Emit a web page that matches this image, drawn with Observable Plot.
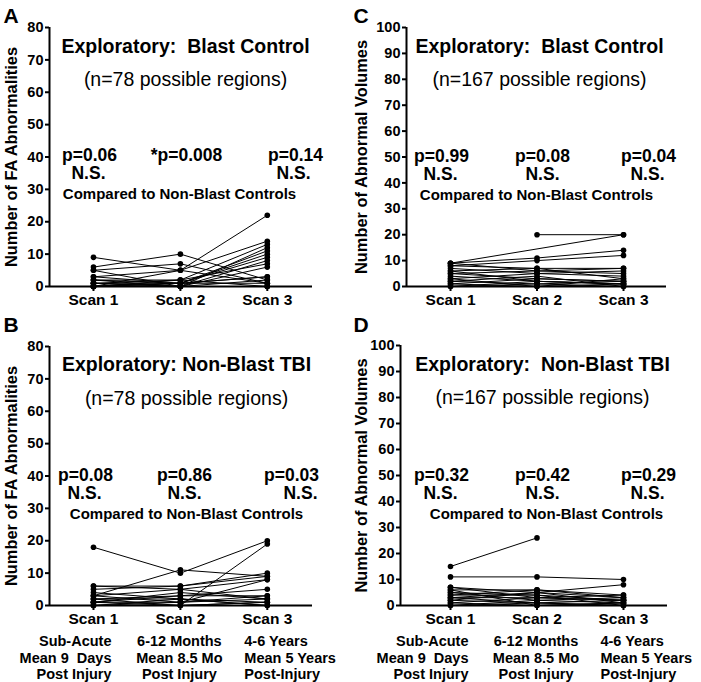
<!DOCTYPE html>
<html><head><meta charset="utf-8">
<script src="https://cdn.jsdelivr.net/npm/d3@7"></script>
<script src="https://cdn.jsdelivr.net/npm/@observablehq/plot@0.6"></script>
<style>
body{margin:0;background:#fff;}
#fig{position:relative;width:701px;height:682px;overflow:hidden;background:#fff;}
#fig > div{position:absolute;}
</style></head><body><div id="fig"></div>
<script>
// ---------- DATA ----------
const scans = ["Scan 1", "Scan 2", "Scan 3"];
const timeLine1 = ["Sub-Acute", "6-12 Months", "4-6 Years"];
const timeLine2 = ["Mean 9\u00a0 Days", "Mean 8.5 Mo", "Mean 5 Years"];
const timeLine3 = ["Post Injury", "Post Injury", "Post-Injury"];
const comparedText = "Compared to Non-Blast Controls";

// Panel A: FA abnormalities, blast control
const faBlastScan1 = [9, 6, 5, 0, 3, 2, 1, 0, 3, 1, 0, 2, 0, 1, 0, 0, 0, 5, 1, 2];
const faBlastScan2 = [5, 10, 7, 5, 5, 2, 1, 1, 1, 0, 2, 0, 1, 0, 0, 1, 0, 0, 2, 1];
const faBlastScan3 = [1, 2, 1, 22, 14, 13, 11, 10, 9, 8, 7, 6, 3, 2, 0, 1, 12, 0, 0, 3];
const faBlastP = ["p=0.06", "*p=0.008", "p=0.14"];
const faBlastNS = ["N.S.", "", "N.S."];

// Panel B: FA abnormalities, non-blast TBI
const faNonBlastScan1 = [18, 3, 1, 6, 6, 5, 3, 2, 2, 1, 3, 0, 1, 2, 0, 4, 1, 0];
const faNonBlastScan2 = [10, 11, 0, 6, 5, 6, 5, 3, 2, 3, 1, 2, 1, 0, 1, 2, 4, 0];
const faNonBlastScan3 = [20, 9, 19, 10, 2, 9, 8, 5, 1, 3, 2, 0, 8, 1, 3, 0, 2, 1];
const faNonBlastP = ["p=0.08", "p=0.86", "p=0.03"];
const faNonBlastNS = ["N.S.", "N.S.", "N.S."];

// Panel C: abnormal volumes, blast control
const volBlastScan1 = [9, null, 9, 8, 8, 7, 6, 5, 5, 4, 3, 2, 1, 0, 1, 2, 0, 9, 3, 6];
const volBlastScan2 = [null, 20, 11, 10, 7, 5, 7, 6, 3, 2, 5, 1, 3, 2, 0, 4, 1, 6, 0, 2];
const volBlastScan3 = [20, 20, 14, 12, 7, 6, 3, 7, 2, 1, 4, 0, 2, 1, 3, 0, 2, 5, 1, 1];
const volBlastP = ["p=0.99", "p=0.08", "p=0.04"];
const volBlastNS = ["N.S.", "N.S.", "N.S."];

// Panel D: abnormal volumes, non-blast TBI
const volNonBlastScan1 = [15, 11, 3, 7, 6, 5, 4, 4, 3, 2, 6, 1, 0, 2, 5, 1, 0, 3, 7];
const volNonBlastScan2 = [26, 11, 5, 3, 6, 2, 6, 4, 1, 5, 0, 3, 2, 1, 4, 0, 1, 3, 5];
const volNonBlastScan3 = [null, 10, 8, 2, 4, 1, 3, 0, 2, 1, 1, 4, 3, 0, 2, 1, 0, 2, 3];
const volNonBlastP = ["p=0.32", "p=0.42", "p=0.29"];
const volNonBlastNS = ["N.S.", "N.S.", "N.S."];

// ---------- DRAWING ----------
const FONT = '"Liberation Sans", Arial, Helvetica, sans-serif';

function makeRows(s1, s2, s3) {
  const rows = [];
  s1.forEach((_, i) => {
    [s1, s2, s3].forEach((s, j) => {
      if (s[i] != null) rows.push({subject: i, scan: j + 1, value: s[i]});
    });
  });
  return rows;
}

function panel(cfg) {
  const m = cfg.margin;
  const W = cfg.width, H = cfg.height;
  const rows = makeRows(cfg.s1, cfg.s2, cfg.s3);
  // helper: text positioned in panel pixel space (px, baseline py)
  const at = (text, px, py, size, weight = "bold", anchor = "middle") =>
    Plot.text([text], {
      text: d => d, frameAnchor: "top-left",
      dx: px - m.left, dy: py - m.top,
      textAnchor: anchor, lineAnchor: "bottom",
      fontSize: size, fontWeight: weight, fill: "black"
    });
  const marks = [
    Plot.axisY({ticks: d3.range(0, cfg.yMax + 1, 10), tickSize: 4, tickPadding: 2,
      strokeWidth: 2, fontSize: 14.5, fontWeight: "bold", label: null}),
    Plot.axisX({ticks: [1, 2, 3], tickSize: 5, tickPadding: 2, strokeWidth: 2,
      tickFormat: i => scans[i - 1], fontSize: 15.5, fontWeight: "bold", label: null}),
    Plot.ruleY([0], {strokeWidth: 2}),
    Plot.ruleX([cfg.xDomain[0]], {strokeWidth: 2}),
    Plot.line(rows, {x: "scan", y: "value", z: "subject", stroke: "black", strokeWidth: 1}),
    Plot.dot(rows, {x: "scan", y: "value", r: 2.8, fill: "black"}),
    // y axis title
    Plot.text([cfg.yLabel], {text: d => d, frameAnchor: "left", rotate: -90,
      textAnchor: "middle", lineAnchor: "middle",
      dx: 11 - m.left, fontSize: 16.4, fontWeight: "bold", fill: "black"}),
    at(cfg.letter, 3, cfg.letterY, 21, "bold", "start"),
    at(cfg.title, cfg.titleX, cfg.titleY, 19.5, "bold"),
    at(cfg.subtitle, cfg.titleX, cfg.subY, 19.5, "normal"),
    ...cfg.p.map((t, i) => at(t, cfg.pX[i], cfg.pY, 17.5)),
    ...cfg.ns.map((t, i) => at(t, cfg.nsX[i], cfg.pY + 18, 17.5)),
    at(comparedText, cfg.cmpX, cfg.pY + 38, 15)
  ];
  if (cfg.times) {
    const anchors = ["end", "middle", "start"];
    const dxs = [18, -1, -23];
    [0, 1, 2].forEach(i => {
      marks.push(Plot.text([i], {
        x: d => d + 1, y: () => 0,
        text: d => [timeLine1[d], timeLine2[d], timeLine3[d]].join("\n"),
        textAnchor: anchors[i], dx: dxs[i], dy: 28, lineAnchor: "top",
        lineHeight: 1.17, fontSize: 14.5, fontWeight: "bold", fill: "black"
      }));
    });
  }
  const svg = Plot.plot({
    width: W, height: H,
    marginLeft: m.left, marginRight: m.right, marginTop: m.top, marginBottom: m.bottom,
    style: {fontFamily: FONT, background: "white", color: "black", overflow: "visible"},
    x: {type: "linear", domain: cfg.xDomain},
    y: {domain: [0, cfg.yMax]},
    marks
  });
  const div = document.createElement("div");
  div.style.left = cfg.left + "px";
  div.style.top = cfg.top + "px";
  div.appendChild(svg);
  document.getElementById("fig").appendChild(div);
}

panel({
  letter: "A", left: 0, top: 0, width: 350, height: 312,
  margin: {left: 49, right: 38, top: 27, bottom: 26},
  xDomain: [0.494, 3.52], yMax: 80, yLabel: "Number of FA Abnormalities",
  title: "Exploratory:\u00a0 Blast Control", subtitle: "(n=78 possible regions)",
  titleX: 185, titleY: 52, subY: 85, letterY: 22,
  p: faBlastP, ns: faBlastNS, pX: [89, 186, 295], nsX: [88, 186, 293], pY: 160, cmpX: 179,
  s1: faBlastScan1, s2: faBlastScan2, s3: faBlastScan3
});
panel({
  letter: "C", left: 350, top: 0, width: 351, height: 312,
  margin: {left: 56, right: 35, top: 27, bottom: 26},
  xDomain: [0.491, 3.497], yMax: 100, yLabel: "Number of Abnormal Volumes",
  title: "Exploratory:\u00a0 Blast Control", subtitle: "(n=167 possible regions)",
  titleX: 189, titleY: 52, subY: 85, letterY: 22,
  p: volBlastP, ns: volBlastNS, pX: [91, 192, 298], nsX: [90, 192, 297], pY: 161, cmpX: 186,
  s1: volBlastScan1, s2: volBlastScan2, s3: volBlastScan3
});
panel({
  letter: "B", left: 0, top: 312, width: 350, height: 370,
  margin: {left: 49, right: 38, top: 34, bottom: 77},
  xDomain: [0.494, 3.52], yMax: 80, yLabel: "Number of FA Abnormalities",
  title: "Exploratory: Non-Blast TBI", subtitle: "(n=78 possible regions)",
  titleX: 186, titleY: 58, subY: 92, letterY: 19, times: true,
  p: faNonBlastP, ns: faNonBlastNS, pX: [85, 184, 291], nsX: [84, 184, 300], pY: 168, cmpX: 186,
  s1: faNonBlastScan1, s2: faNonBlastScan2, s3: faNonBlastScan3
});
panel({
  letter: "D", left: 350, top: 312, width: 351, height: 370,
  margin: {left: 50, right: 34, top: 33, bottom: 77},
  xDomain: [0.422, 3.509], yMax: 100, yLabel: "Number of Abnormal Volumes",
  title: "Exploratory:\u00a0 Non-Blast TBI", subtitle: "(n=167 possible regions)",
  titleX: 192, titleY: 58, subY: 91, letterY: 19, times: true,
  p: volNonBlastP, ns: volNonBlastNS, pX: [91, 192, 298], nsX: [90, 192, 297], pY: 168, cmpX: 196,
  s1: volNonBlastScan1, s2: volNonBlastScan2, s3: volNonBlastScan3
});
</script>
</body></html>
